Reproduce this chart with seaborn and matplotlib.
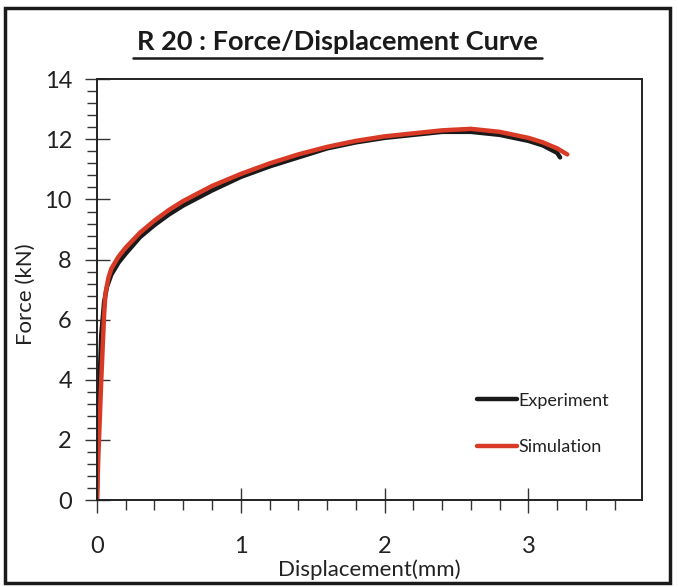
import matplotlib
matplotlib.use("Agg")
import matplotlib.pyplot as plt
import seaborn as sns
import pandas as pd
from matplotlib.patches import Rectangle
from matplotlib.ticker import MultipleLocator

# Data
exp_x = [0, 0.005, 0.015, 0.03, 0.05, 0.07, 0.1, 0.15, 0.2, 0.3, 0.4, 0.5, 0.6, 0.8,
         1.0, 1.2, 1.4, 1.6, 1.8, 2.0, 2.2, 2.4, 2.6, 2.8, 3.0, 3.1, 3.2, 3.22]
exp_y = [0, 1.5, 3.5, 5.5, 6.6, 7.1, 7.5, 7.9, 8.2, 8.75, 9.15, 9.5, 9.8, 10.3,
         10.75, 11.1, 11.4, 11.7, 11.9, 12.05, 12.15, 12.25, 12.25, 12.15, 11.95, 11.8, 11.55, 11.4]
sim_x = [0, 0.01, 0.03, 0.05, 0.06, 0.08, 0.1, 0.15, 0.2, 0.3, 0.4, 0.5, 0.6, 0.8,
         1.0, 1.2, 1.4, 1.6, 1.8, 2.0, 2.2, 2.4, 2.6, 2.8, 3.0, 3.1, 3.2, 3.27]
sim_y = [0, 1.5, 4.0, 6.2, 6.9, 7.4, 7.7, 8.1, 8.4, 8.9, 9.3, 9.65, 9.95, 10.45,
         10.85, 11.2, 11.5, 11.75, 11.95, 12.1, 12.2, 12.3, 12.35, 12.25, 12.05, 11.9, 11.7, 11.5]
series_names = ["Experiment", "Simulation"]
x_ticks = [0, 1, 2, 3]
y_ticks = [0, 2, 4, 6, 8, 10, 12, 14]

sns.set_style("ticks")
plt.rcParams["font.family"] = ["Lato", "DejaVu Sans"]

df = pd.concat([
    pd.DataFrame({"x": exp_x, "y": exp_y, "series": series_names[0]}),
    pd.DataFrame({"x": sim_x, "y": sim_y, "series": series_names[1]}),
])

fig = plt.figure(figsize=(6.78, 5.87), dpi=100)
ax = fig.add_axes([0.143, 0.148, 0.804, 0.717])

sns.lineplot(data=df, x="x", y="y", hue="series", sort=False, estimator=None,
             palette={"Experiment": "#1a1a1a", "Simulation": "#d93a26"},
             linewidth=3.2, ax=ax)

ax.set_xlim(0, 3.79)
ax.set_ylim(0, 14)
ax.set_xticks(x_ticks)
ax.set_yticks(y_ticks)
ax.xaxis.set_minor_locator(MultipleLocator(0.2))
ax.yaxis.set_minor_locator(MultipleLocator(0.4))
ax.tick_params(which="major", direction="inout", length=18, width=1.0, color="#333333",
               labelsize=17, labelcolor="#222222")
ax.tick_params(axis="x", which="major", pad=17)
ax.tick_params(axis="y", which="major", pad=9)
ax.tick_params(which="minor", direction="out", length=7, width=1.0, color="#333333")
for s in ax.spines.values():
    s.set_visible(True)
    s.set_linewidth(1.4)
    s.set_color("#222222")

ax.set_xlabel("Displacement(mm)", fontsize=16, color="#222222")
ax.xaxis.set_label_coords(0.5, -0.142)
ax.set_ylabel("Force (kN)", fontsize=16, color="#222222")
ax.yaxis.set_label_coords(-0.112, 0.49)

fig.text(0.497, 0.928, "R 20 : Force/Displacement Curve", ha="center", va="center",
         fontsize=19.5, fontweight="bold", color="#1a1a1a")
# underline
fig.add_artist(plt.Line2D([0.196, 0.800], [0.901, 0.901], color="#1a1a1a", lw=1.8,
                          transform=fig.transFigure))

leg = ax.legend(loc="center left", bbox_to_anchor=(0.667, 0.181), frameon=False,
                fontsize=13, handlelength=2.2, handletextpad=0.1, labelspacing=1.7)
for t in leg.get_texts():
    t.set_color("#222222")

fig.add_artist(Rectangle((0.008, 0.006), 0.980, 0.980, transform=fig.transFigure,
                         fill=False, edgecolor="#1a1a1a", linewidth=2.5))

fig.savefig("out.png", dpi=100, facecolor="white")
